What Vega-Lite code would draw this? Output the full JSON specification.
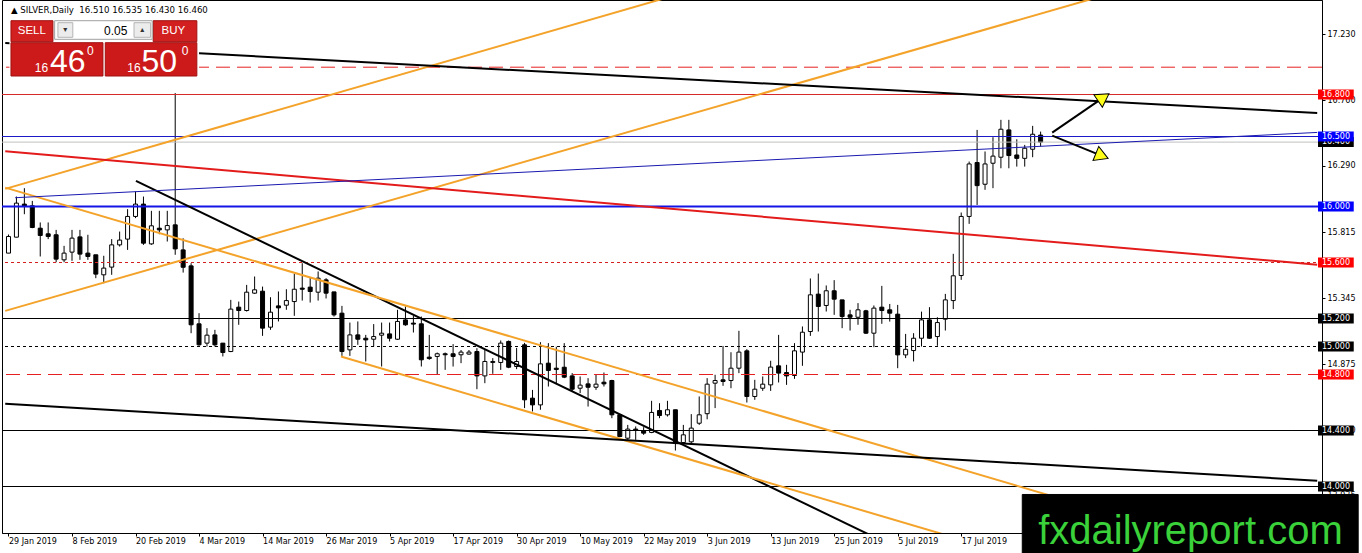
{
  "$schema": "https://vega.github.io/schema/vega-lite/v6.json",
  "description": "SILVER daily candles, Jan-Jul 2019, with trend lines and levels",
  "width": 1320,
  "height": 533,
  "autosize": {"type": "none"},
  "padding": {"left": 2, "top": 0, "right": 40, "bottom": 20},
  "background": "white",
  "config": {
    "view": {"stroke": "black", "strokeWidth": 1},
    "axis": {"labelFont": "DejaVu Sans", "labelFontSize": 8, "labelColor": "black", "tickColor": "black", "domainColor": "black", "grid": false}
  },
  "datasets": {
    "candles": [
      {"i":0,"d":"2019-01-29","o":15.667,"h":15.8,"l":15.667,"c":15.786},
      {"i":1,"d":"2019-01-30","o":15.781,"h":16.071,"l":15.78,"c":16.024},
      {"i":2,"d":"2019-01-31","o":16.017,"h":16.131,"l":15.945,"c":16.0},
      {"i":3,"d":"2019-02-01","o":16.005,"h":16.04,"l":15.845,"c":15.85},
      {"i":4,"d":"2019-02-04","o":15.845,"h":15.886,"l":15.643,"c":15.793},
      {"i":5,"d":"2019-02-05","o":15.805,"h":15.886,"l":15.767,"c":15.786},
      {"i":6,"d":"2019-02-06","o":15.798,"h":15.833,"l":15.602,"c":15.624},
      {"i":7,"d":"2019-02-07","o":15.619,"h":15.719,"l":15.602,"c":15.667},
      {"i":8,"d":"2019-02-08","o":15.674,"h":15.833,"l":15.612,"c":15.774},
      {"i":9,"d":"2019-02-11","o":15.783,"h":15.833,"l":15.619,"c":15.66},
      {"i":10,"d":"2019-02-12","o":15.667,"h":15.798,"l":15.619,"c":15.643},
      {"i":11,"d":"2019-02-13","o":15.655,"h":15.655,"l":15.488,"c":15.517},
      {"i":12,"d":"2019-02-14","o":15.512,"h":15.648,"l":15.452,"c":15.56},
      {"i":13,"d":"2019-02-15","o":15.567,"h":15.767,"l":15.512,"c":15.726},
      {"i":14,"d":"2019-02-18","o":15.726,"h":15.821,"l":15.714,"c":15.76},
      {"i":15,"d":"2019-02-19","o":15.767,"h":15.981,"l":15.69,"c":15.929},
      {"i":16,"d":"2019-02-20","o":15.929,"h":16.107,"l":15.917,"c":16.017},
      {"i":17,"d":"2019-02-21","o":16.017,"h":16.071,"l":15.726,"c":15.738},
      {"i":18,"d":"2019-02-22","o":15.733,"h":15.969,"l":15.726,"c":15.862},
      {"i":19,"d":"2019-02-25","o":15.845,"h":15.969,"l":15.802,"c":15.833},
      {"i":20,"d":"2019-02-26","o":15.833,"h":15.969,"l":15.75,"c":15.864},
      {"i":21,"d":"2019-02-27","o":15.869,"h":16.81,"l":15.655,"c":15.697},
      {"i":22,"d":"2019-02-28","o":15.69,"h":15.773,"l":15.528,"c":15.566},
      {"i":23,"d":"2019-03-01","o":15.576,"h":15.595,"l":15.095,"c":15.155},
      {"i":24,"d":"2019-03-04","o":15.162,"h":15.238,"l":15.005,"c":15.012},
      {"i":25,"d":"2019-03-05","o":15.024,"h":15.131,"l":15.0,"c":15.081},
      {"i":26,"d":"2019-03-06","o":15.083,"h":15.119,"l":15.0,"c":15.012},
      {"i":27,"d":"2019-03-07","o":15.024,"h":15.024,"l":14.929,"c":14.957},
      {"i":28,"d":"2019-03-08","o":14.964,"h":15.333,"l":14.96,"c":15.267},
      {"i":29,"d":"2019-03-11","o":15.281,"h":15.321,"l":15.155,"c":15.257},
      {"i":30,"d":"2019-03-12","o":15.257,"h":15.44,"l":15.25,"c":15.388},
      {"i":31,"d":"2019-03-13","o":15.381,"h":15.5,"l":15.376,"c":15.405},
      {"i":32,"d":"2019-03-14","o":15.395,"h":15.428,"l":15.076,"c":15.131},
      {"i":33,"d":"2019-03-15","o":15.138,"h":15.352,"l":15.119,"c":15.245},
      {"i":34,"d":"2019-03-18","o":15.29,"h":15.393,"l":15.179,"c":15.276},
      {"i":35,"d":"2019-03-19","o":15.295,"h":15.409,"l":15.262,"c":15.328},
      {"i":36,"d":"2019-03-20","o":15.321,"h":15.519,"l":15.219,"c":15.409},
      {"i":37,"d":"2019-03-21","o":15.417,"h":15.595,"l":15.328,"c":15.409},
      {"i":38,"d":"2019-03-22","o":15.424,"h":15.495,"l":15.314,"c":15.393},
      {"i":39,"d":"2019-03-25","o":15.388,"h":15.536,"l":15.328,"c":15.488},
      {"i":40,"d":"2019-03-26","o":15.476,"h":15.488,"l":15.343,"c":15.381},
      {"i":41,"d":"2019-03-27","o":15.39,"h":15.39,"l":15.214,"c":15.226},
      {"i":42,"d":"2019-03-28","o":15.238,"h":15.29,"l":14.933,"c":14.964},
      {"i":43,"d":"2019-03-29","o":14.976,"h":15.171,"l":14.933,"c":15.083},
      {"i":44,"d":"2019-04-01","o":15.083,"h":15.179,"l":15.012,"c":15.052},
      {"i":45,"d":"2019-04-02","o":15.059,"h":15.083,"l":14.893,"c":15.047},
      {"i":46,"d":"2019-04-03","o":15.052,"h":15.16,"l":15.0,"c":15.071},
      {"i":47,"d":"2019-04-04","o":15.081,"h":15.171,"l":14.857,"c":15.095},
      {"i":48,"d":"2019-04-05","o":15.09,"h":15.171,"l":15.036,"c":15.059},
      {"i":49,"d":"2019-04-08","o":15.052,"h":15.262,"l":15.047,"c":15.179},
      {"i":50,"d":"2019-04-09","o":15.19,"h":15.286,"l":15.148,"c":15.155},
      {"i":51,"d":"2019-04-10","o":15.167,"h":15.219,"l":15.1,"c":15.16},
      {"i":52,"d":"2019-04-11","o":15.162,"h":15.214,"l":14.857,"c":14.905},
      {"i":53,"d":"2019-04-12","o":14.924,"h":15.083,"l":14.905,"c":14.914},
      {"i":54,"d":"2019-04-15","o":14.929,"h":14.957,"l":14.798,"c":14.948},
      {"i":55,"d":"2019-04-16","o":14.948,"h":14.957,"l":14.833,"c":14.941},
      {"i":56,"d":"2019-04-17","o":14.948,"h":15.017,"l":14.857,"c":14.929},
      {"i":57,"d":"2019-04-18","o":14.941,"h":14.975,"l":14.881,"c":14.96},
      {"i":58,"d":"2019-04-22","o":14.946,"h":14.975,"l":14.941,"c":14.96},
      {"i":59,"d":"2019-04-23","o":14.964,"h":14.988,"l":14.695,"c":14.79},
      {"i":60,"d":"2019-04-24","o":14.79,"h":14.976,"l":14.738,"c":14.893},
      {"i":61,"d":"2019-04-25","o":14.886,"h":14.917,"l":14.805,"c":14.893},
      {"i":62,"d":"2019-04-26","o":14.886,"h":15.043,"l":14.833,"c":15.024},
      {"i":63,"d":"2019-04-29","o":15.036,"h":15.043,"l":14.845,"c":14.852},
      {"i":64,"d":"2019-04-30","o":14.857,"h":14.99,"l":14.838,"c":14.893},
      {"i":65,"d":"2019-05-01","o":15.012,"h":15.026,"l":14.56,"c":14.619},
      {"i":66,"d":"2019-05-02","o":14.631,"h":14.69,"l":14.536,"c":14.583},
      {"i":67,"d":"2019-05-03","o":14.583,"h":15.031,"l":14.548,"c":14.876},
      {"i":68,"d":"2019-05-06","o":14.881,"h":15.024,"l":14.714,"c":14.829},
      {"i":69,"d":"2019-05-07","o":14.845,"h":14.998,"l":14.738,"c":14.836},
      {"i":70,"d":"2019-05-08","o":14.852,"h":15.024,"l":14.774,"c":14.781},
      {"i":71,"d":"2019-05-09","o":14.79,"h":14.81,"l":14.679,"c":14.695},
      {"i":72,"d":"2019-05-10","o":14.702,"h":14.786,"l":14.667,"c":14.724},
      {"i":73,"d":"2019-05-13","o":14.733,"h":14.774,"l":14.571,"c":14.709},
      {"i":74,"d":"2019-05-14","o":14.709,"h":14.798,"l":14.69,"c":14.731},
      {"i":75,"d":"2019-05-15","o":14.745,"h":14.814,"l":14.714,"c":14.733},
      {"i":76,"d":"2019-05-16","o":14.757,"h":14.762,"l":14.488,"c":14.512},
      {"i":77,"d":"2019-05-17","o":14.512,"h":14.512,"l":14.352,"c":14.357},
      {"i":78,"d":"2019-05-20","o":14.345,"h":14.44,"l":14.333,"c":14.41},
      {"i":79,"d":"2019-05-21","o":14.41,"h":14.429,"l":14.333,"c":14.4},
      {"i":80,"d":"2019-05-22","o":14.398,"h":14.424,"l":14.369,"c":14.381},
      {"i":81,"d":"2019-05-23","o":14.386,"h":14.612,"l":14.381,"c":14.529},
      {"i":82,"d":"2019-05-24","o":14.543,"h":14.595,"l":14.488,"c":14.507},
      {"i":83,"d":"2019-05-27","o":14.512,"h":14.612,"l":14.5,"c":14.548},
      {"i":84,"d":"2019-05-28","o":14.548,"h":14.548,"l":14.257,"c":14.31},
      {"i":85,"d":"2019-05-29","o":14.314,"h":14.44,"l":14.305,"c":14.369},
      {"i":86,"d":"2019-05-30","o":14.319,"h":14.517,"l":14.31,"c":14.417},
      {"i":87,"d":"2019-05-31","o":14.452,"h":14.643,"l":14.44,"c":14.512},
      {"i":88,"d":"2019-06-03","o":14.52,"h":14.774,"l":14.48,"c":14.731},
      {"i":89,"d":"2019-06-04","o":14.738,"h":14.798,"l":14.56,"c":14.757},
      {"i":90,"d":"2019-06-05","o":14.762,"h":15.004,"l":14.719,"c":14.75},
      {"i":91,"d":"2019-06-06","o":14.757,"h":14.959,"l":14.702,"c":14.845},
      {"i":92,"d":"2019-06-07","o":14.845,"h":15.112,"l":14.81,"c":14.96},
      {"i":93,"d":"2019-06-10","o":14.969,"h":14.981,"l":14.6,"c":14.643},
      {"i":94,"d":"2019-06-11","o":14.643,"h":14.762,"l":14.619,"c":14.695},
      {"i":95,"d":"2019-06-12","o":14.702,"h":14.786,"l":14.683,"c":14.731},
      {"i":96,"d":"2019-06-13","o":14.726,"h":14.898,"l":14.683,"c":14.853},
      {"i":97,"d":"2019-06-14","o":14.862,"h":15.083,"l":14.743,"c":14.81},
      {"i":98,"d":"2019-06-17","o":14.814,"h":14.869,"l":14.726,"c":14.79},
      {"i":99,"d":"2019-06-18","o":14.793,"h":15.024,"l":14.769,"c":14.969},
      {"i":100,"d":"2019-06-19","o":14.96,"h":15.143,"l":14.862,"c":15.102},
      {"i":101,"d":"2019-06-20","o":15.107,"h":15.486,"l":15.076,"c":15.369},
      {"i":102,"d":"2019-06-21","o":15.374,"h":15.521,"l":15.107,"c":15.286},
      {"i":103,"d":"2019-06-24","o":15.293,"h":15.436,"l":15.25,"c":15.398},
      {"i":104,"d":"2019-06-25","o":15.398,"h":15.474,"l":15.226,"c":15.338},
      {"i":105,"d":"2019-06-26","o":15.333,"h":15.333,"l":15.131,"c":15.214},
      {"i":106,"d":"2019-06-27","o":15.226,"h":15.262,"l":15.114,"c":15.209},
      {"i":107,"d":"2019-06-28","o":15.209,"h":15.31,"l":15.155,"c":15.262},
      {"i":108,"d":"2019-07-01","o":15.255,"h":15.262,"l":15.09,"c":15.095},
      {"i":109,"d":"2019-07-02","o":15.095,"h":15.293,"l":14.995,"c":15.274},
      {"i":110,"d":"2019-07-03","o":15.281,"h":15.433,"l":15.162,"c":15.257},
      {"i":111,"d":"2019-07-04","o":15.262,"h":15.304,"l":15.178,"c":15.238},
      {"i":112,"d":"2019-07-05","o":15.231,"h":15.297,"l":14.845,"c":14.94},
      {"i":113,"d":"2019-07-08","o":14.94,"h":15.09,"l":14.917,"c":14.98},
      {"i":114,"d":"2019-07-09","o":14.971,"h":15.095,"l":14.893,"c":15.059},
      {"i":115,"d":"2019-07-10","o":15.059,"h":15.249,"l":15.0,"c":15.19},
      {"i":116,"d":"2019-07-11","o":15.19,"h":15.281,"l":15.055,"c":15.059},
      {"i":117,"d":"2019-07-12","o":15.071,"h":15.209,"l":15.005,"c":15.171},
      {"i":118,"d":"2019-07-15","o":15.195,"h":15.376,"l":15.114,"c":15.333},
      {"i":119,"d":"2019-07-16","o":15.328,"h":15.662,"l":15.267,"c":15.505},
      {"i":120,"d":"2019-07-17","o":15.507,"h":15.957,"l":15.476,"c":15.929},
      {"i":121,"d":"2019-07-18","o":15.929,"h":16.321,"l":15.876,"c":16.304},
      {"i":122,"d":"2019-07-19","o":16.314,"h":16.547,"l":16.011,"c":16.149},
      {"i":123,"d":"2019-07-22","o":16.159,"h":16.393,"l":16.119,"c":16.304},
      {"i":124,"d":"2019-07-23","o":16.309,"h":16.495,"l":16.131,"c":16.36},
      {"i":125,"d":"2019-07-24","o":16.352,"h":16.619,"l":16.273,"c":16.552},
      {"i":126,"d":"2019-07-25","o":16.547,"h":16.619,"l":16.273,"c":16.364},
      {"i":127,"d":"2019-07-26","o":16.368,"h":16.48,"l":16.285,"c":16.344},
      {"i":128,"d":"2019-07-29","o":16.344,"h":16.44,"l":16.285,"c":16.416},
      {"i":129,"d":"2019-07-30","o":16.409,"h":16.576,"l":16.352,"c":16.516},
      {"i":130,"d":"2019-07-31","o":16.51,"h":16.535,"l":16.43,"c":16.46}
    ],
    "levels": [
      {"name":"16.995","level":16.995},
      {"name":"16.800","level":16.8},
      {"name":"16.460","level":16.46},
      {"name":"16.500","level":16.5},
      {"name":"16.000","level":16.0},
      {"name":"15.600","level":15.6},
      {"name":"15.200","level":15.2},
      {"name":"15.000","level":15.0},
      {"name":"14.800","level":14.8},
      {"name":"14.400","level":14.4},
      {"name":"14.000","level":14.0}
    ],
    "lines": [
      {"name":"rise_a","x1":-0.41,"y1":16.1257,"x2":93.34,"y2":17.6629},
      {"name":"rise_b","x1":-0.41,"y1":15.2546,"x2":143.34,"y2":17.5947},
      {"name":"top","x1":-0.41,"y1":17.1681,"x2":164.84,"y2":16.6683},
      {"name":"red","x1":-0.41,"y1":16.3942,"x2":164.84,"y2":15.5845},
      {"name":"blue","x1":0.84,"y1":16.0628,"x2":164.84,"y2":16.5291},
      {"name":"down","x1":16.05,"y1":16.1828,"x2":108.34,"y2":13.6582},
      {"name":"chan_hi","x1":-0.41,"y1":16.135,"x2":164.84,"y2":13.3733},
      {"name":"chan_lo","x1":41.875,"y1":14.9283,"x2":124.59,"y2":13.544},
      {"name":"floor","x1":-0.41,"y1":14.5906,"x2":164.84,"y2":14.0409}
    ],
    "arrows": [
      {"dir":"up","x1":131.46,"y1":16.5276,"x2":137.93,"y2":16.7797},
      {"dir":"down","x1":131.46,"y1":16.5062,"x2":137.73,"y2":16.3613}
    ],
    "panel": [
      {"part":"bg","x1":0.1875,"x2":23.94,"y1":17.3393,"y2":16.925},
      {"part":"button","x1":0.3125,"x2":5.6,"y1":17.3271,"y2":17.1771},
      {"part":"button","x1":18.225,"x2":23.725,"y1":17.3271,"y2":17.1771},
      {"part":"spin","x1":5.8125,"x2":18.1,"y1":17.3271,"y2":17.1943},
      {"part":"step","x1":6.225,"x2":8.1,"y1":17.3129,"y2":17.2086},
      {"part":"step","x1":15.8125,"x2":17.9,"y1":17.3129,"y2":17.2086},
      {"part":"price","x1":0.3125,"x2":11.9,"y1":17.17,"y2":16.9321},
      {"part":"price","x1":12.1875,"x2":23.725,"y1":17.17,"y2":16.9321},
      {"part":"brand","x1":127.69,"x2":170,"y1":13.943,"y2":13.5}
    ],
    "labels": [
      {"part":"header","t":"▲ SILVER,Daily\u00a0 16.510 16.535 16.430 16.460","x":0.3125,"y":17.4014},
      {"part":"btn","t":"SELL","x":2.9375,"y":17.2536},
      {"part":"btn","t":"BUY","x":20.775,"y":17.2536},
      {"part":"lot","t":"0.05","x":14.975,"y":17.255},
      {"part":"step","t":"▾","x":7.1625,"y":17.2607},
      {"part":"step","t":"▴","x":16.85,"y":17.2607},
      {"part":"small","t":"16","x":4.15,"y":16.9629},
      {"part":"small","t":"16","x":15.8125,"y":16.9629},
      {"part":"big","t":"46","x":7.475,"y":16.9629},
      {"part":"big","t":"50","x":19.0,"y":16.9629},
      {"part":"sup","t":"0","x":10.3,"y":17.0821},
      {"part":"sup","t":"0","x":22.25,"y":17.0821},
      {"part":"brand","t":"fxdailyreport.com","x":129.69,"y":13.5893}
    ]
  },
  "resolve": {"scale": {"color": "independent", "strokeDash": "independent", "fill": "independent", "stroke": "independent"}},
  "layer": [
    {
      "data": {"name": "candles"},
      "mark": {"type": "rule", "color": "black", "strokeWidth": 1, "clip": true},
      "encoding": {
        "x": {
          "field": "i", "type": "quantitative",
          "scale": {"domain": [-0.1875, 164.8125], "nice": false, "zero": false},
          "axis": {
            "title": null,
            "values": [0, 8, 16, 24, 32, 40, 48, 56, 64, 72, 80, 88, 96, 104, 112, 120],
            "labelExpr": "['29 Jan 2019','8 Feb 2019','20 Feb 2019','4 Mar 2019','14 Mar 2019','26 Mar 2019','5 Apr 2019','17 Apr 2019','30 Apr 2019','10 May 2019','22 May 2019','3 Jun 2019','13 Jun 2019','25 Jun 2019','5 Jul 2019','17 Jul 2019'][round(datum.value / 8)]",
            "labelAlign": "left",
            "labelOffset": 0,
            "tickSize": 3,
            "labelPadding": 1,
            "labelFlush": false,
            "labelOverlap": false,
            "labelBound": false
          }
        },
        "y": {
          "field": "l", "type": "quantitative",
          "scale": {"domain": [13.66786, 17.475], "nice": false, "zero": false},
          "axis": {
            "title": null,
            "orient": "right",
            "values": [17.23, 16.995, 16.76, 16.525, 16.29, 16.055, 15.815, 15.58, 15.345, 15.11, 14.875, 14.64, 14.4, 14.17, 13.935],
            "format": ".3f",
            "tickSize": 3,
            "labelPadding": 2,
            "labelOverlap": false,
            "labelBound": false
          }
        },
        "y2": {"field": "h"}
      }
    },
    {
      "data": {"name": "candles"},
      "mark": {"type": "bar", "width": 4, "stroke": "black", "strokeWidth": 1, "clip": true},
      "encoding": {
        "x": {"field": "i", "type": "quantitative", "title": null, "scale": {"domain": [-0.1875, 164.8125], "nice": false, "zero": false}},
        "y": {"field": "o", "type": "quantitative", "title": null, "scale": {"domain": [13.66786, 17.475], "nice": false, "zero": false}},
        "y2": {"field": "c"},
        "fill": {"condition": {"test": "datum.c >= datum.o", "value": "white"}, "value": "black"},
        "tooltip": [
          {"field": "d", "type": "nominal", "title": "Date"},
          {"field": "o", "type": "quantitative", "title": "Open"},
          {"field": "h", "type": "quantitative", "title": "High"},
          {"field": "l", "type": "quantitative", "title": "Low"},
          {"field": "c", "type": "quantitative", "title": "Close"}
        ]
      }
    },
    {
      "data": {"name": "levels"},
      "transform": [{"filter": "datum.level != 16"}],
      "mark": {"type": "rule", "strokeWidth": 1, "clip": true},
      "encoding": {
        "y": {"field": "level", "type": "quantitative", "title": null, "scale": {"domain": [13.66786, 17.475], "nice": false, "zero": false}},
        "color": {
          "field": "name", "type": "nominal", "legend": null,
          "scale": {
            "domain": ["16.995", "16.800", "16.460", "16.500", "15.600", "15.200", "15.000", "14.800", "14.400", "14.000"],
            "range": ["#e52020", "#d42a2a", "#c0c0c0", "#1a1ac8", "#d42020", "black", "black", "#e52020", "black", "black"]
          }
        },
        "strokeDash": {
          "field": "name", "type": "nominal", "legend": null,
          "scale": {
            "domain": ["16.995", "16.800", "16.460", "16.500", "15.600", "15.200", "15.000", "14.800", "14.400", "14.000"],
            "range": [[14, 7], [1, 0], [1, 0], [1, 0], [3, 3], [1, 0], [3, 3], [14, 7], [1, 0], [1, 0]]
          }
        }
      }
    },
    {
      "data": {"name": "levels"},
      "transform": [{"filter": "datum.level == 16"}],
      "mark": {"type": "rule", "strokeWidth": 2, "color": "#1414e6", "clip": true},
      "encoding": {
        "y": {"field": "level", "type": "quantitative", "title": null, "scale": {"domain": [13.66786, 17.475], "nice": false, "zero": false}}
      }
    },
    {
      "data": {"name": "lines"},
      "transform": [{"filter": "datum.name != 'blue'"}],
      "mark": {"type": "rule", "strokeWidth": 2, "clip": true},
      "encoding": {
        "x": {"field": "x1", "type": "quantitative", "title": null, "scale": {"domain": [-0.1875, 164.8125], "nice": false, "zero": false}},
        "x2": {"field": "x2"},
        "y": {"field": "y1", "type": "quantitative", "title": null, "scale": {"domain": [13.66786, 17.475], "nice": false, "zero": false}},
        "y2": {"field": "y2"},
        "color": {
          "field": "name", "type": "nominal", "legend": null,
          "scale": {
            "domain": ["rise_a", "rise_b", "top", "red", "down", "chan_hi", "chan_lo", "floor"],
            "range": ["#f4a32a", "#f4a32a", "black", "#e31b1b", "black", "#f4a32a", "#f4a32a", "black"]
          }
        }
      }
    },
    {
      "data": {"name": "lines"},
      "transform": [{"filter": "datum.name == 'blue'"}],
      "mark": {"type": "rule", "strokeWidth": 1, "color": "#1a1ab0", "clip": true},
      "encoding": {
        "x": {"field": "x1", "type": "quantitative", "title": null, "scale": {"domain": [-0.1875, 164.8125], "nice": false, "zero": false}},
        "x2": {"field": "x2"},
        "y": {"field": "y1", "type": "quantitative", "title": null, "scale": {"domain": [13.66786, 17.475], "nice": false, "zero": false}},
        "y2": {"field": "y2"}
      }
    },
    {
      "data": {"name": "arrows"},
      "mark": {"type": "rule", "strokeWidth": 2, "color": "black"},
      "encoding": {
        "x": {"field": "x1", "type": "quantitative", "title": null, "scale": {"domain": [-0.1875, 164.8125], "nice": false, "zero": false}},
        "x2": {"field": "x2"},
        "y": {"field": "y1", "type": "quantitative", "title": null, "scale": {"domain": [13.66786, 17.475], "nice": false, "zero": false}},
        "y2": {"field": "y2"}
      }
    },
    {
      "data": {"name": "arrows"},
      "mark": {"type": "point", "shape": "triangle-up", "filled": true, "fill": "#ffff1a", "stroke": "black", "strokeWidth": 1, "size": 230, "opacity": 1},
      "encoding": {
        "x": {"field": "x2", "type": "quantitative", "title": null, "scale": {"domain": [-0.1875, 164.8125], "nice": false, "zero": false}},
        "y": {"field": "y2", "type": "quantitative", "title": null, "scale": {"domain": [13.66786, 17.475], "nice": false, "zero": false}},
        "angle": {"condition": {"test": "datum.dir == 'up'", "value": 56}, "value": 112}
      }
    },
    {
      "data": {"name": "levels"},
      "transform": [{"filter": "datum.level == 16.46"}],
      "mark": {"type": "rect", "yOffset": -5, "y2Offset": 5, "fill": "black"},
      "encoding": {
        "x": {"datum": 164.94, "type": "quantitative", "title": null, "scale": {"domain": [-0.1875, 164.8125], "nice": false, "zero": false}},
        "x2": {"datum": 169.44},
        "y": {"field": "level", "type": "quantitative", "title": null, "scale": {"domain": [13.66786, 17.475], "nice": false, "zero": false}},
        "y2": {"field": "level"}
      }
    },
    {
      "data": {"name": "levels"},
      "transform": [{"filter": "datum.level == 16.46"}],
      "mark": {"type": "text", "align": "left", "baseline": "middle", "font": "DejaVu Sans", "fontSize": 8, "color": "white"},
      "encoding": {
        "x": {"datum": 165.44, "type": "quantitative", "title": null, "scale": {"domain": [-0.1875, 164.8125], "nice": false, "zero": false}},
        "y": {"field": "level", "type": "quantitative", "title": null, "scale": {"domain": [13.66786, 17.475], "nice": false, "zero": false}},
        "text": {"field": "name"}
      }
    },
    {
      "data": {"name": "levels"},
      "transform": [{"filter": "datum.level != 16.46 && datum.level != 16.995"}],
      "mark": {"type": "rect", "yOffset": -5, "y2Offset": 5},
      "encoding": {
        "x": {"datum": 164.94, "type": "quantitative", "title": null, "scale": {"domain": [-0.1875, 164.8125], "nice": false, "zero": false}},
        "x2": {"datum": 169.44},
        "y": {"field": "level", "type": "quantitative", "title": null, "scale": {"domain": [13.66786, 17.475], "nice": false, "zero": false}},
        "y2": {"field": "level"},
        "fill": {
          "field": "name", "type": "nominal", "legend": null,
          "scale": {
            "domain": ["16.800", "16.500", "16.000", "15.600", "15.200", "15.000", "14.800", "14.400", "14.000"],
            "range": ["#ff0000", "#0000ff", "#0000ff", "#ff0000", "black", "black", "#ff0000", "black", "black"]
          }
        }
      }
    },
    {
      "data": {"name": "levels"},
      "transform": [{"filter": "datum.level != 16.46 && datum.level != 16.995"}],
      "mark": {"type": "text", "align": "left", "baseline": "middle", "font": "DejaVu Sans", "fontSize": 8, "color": "white"},
      "encoding": {
        "x": {"datum": 165.44, "type": "quantitative", "title": null, "scale": {"domain": [-0.1875, 164.8125], "nice": false, "zero": false}},
        "y": {"field": "level", "type": "quantitative", "title": null, "scale": {"domain": [13.66786, 17.475], "nice": false, "zero": false}},
        "text": {"field": "name"}
      }
    },
    {
      "data": {"name": "panel"},
      "mark": {"type": "rect", "strokeWidth": 1},
      "encoding": {
        "x": {"field": "x1", "type": "quantitative", "title": null, "scale": {"domain": [-0.1875, 164.8125], "nice": false, "zero": false}},
        "x2": {"field": "x2"},
        "y": {"field": "y1", "type": "quantitative", "title": null, "scale": {"domain": [13.66786, 17.475], "nice": false, "zero": false}},
        "y2": {"field": "y2"},
        "fill": {
          "field": "part", "type": "nominal", "legend": null,
          "scale": {"domain": ["bg", "button", "spin", "step", "price", "brand"], "range": ["white", "#d21f1f", "white", "#ececec", "#cc1a1a", "black"]}
        },
        "stroke": {
          "field": "part", "type": "nominal", "legend": null,
          "scale": {"domain": ["bg", "button", "spin", "step", "price", "brand"], "range": ["white", "#a01010", "#a0a0a0", "#b4b4b4", "#a01010", "black"]}
        }
      }
    },
    {
      "data": {"name": "labels"},
      "transform": [{"filter": "datum.part == 'header'"}],
      "mark": {"type": "text", "align": "left", "baseline": "middle", "font": "DejaVu Sans", "fontSize": 8.6, "color": "black"},
      "encoding": {
        "x": {"field": "x", "type": "quantitative", "title": null, "scale": {"domain": [-0.1875, 164.8125], "nice": false, "zero": false}},
        "y": {"field": "y", "type": "quantitative", "title": null, "scale": {"domain": [13.66786, 17.475], "nice": false, "zero": false}},
        "text": {"field": "t"}
      }
    },
    {
      "data": {"name": "labels"},
      "transform": [{"filter": "datum.part == 'btn'"}],
      "mark": {"type": "text", "align": "center", "baseline": "middle", "font": "Liberation Sans", "fontSize": 11.5, "color": "white"},
      "encoding": {
        "x": {"field": "x", "type": "quantitative", "title": null, "scale": {"domain": [-0.1875, 164.8125], "nice": false, "zero": false}},
        "y": {"field": "y", "type": "quantitative", "title": null, "scale": {"domain": [13.66786, 17.475], "nice": false, "zero": false}},
        "text": {"field": "t"}
      }
    },
    {
      "data": {"name": "labels"},
      "transform": [{"filter": "datum.part == 'lot'"}],
      "mark": {"type": "text", "align": "right", "baseline": "middle", "font": "Liberation Sans", "fontSize": 12, "color": "black"},
      "encoding": {
        "x": {"field": "x", "type": "quantitative", "title": null, "scale": {"domain": [-0.1875, 164.8125], "nice": false, "zero": false}},
        "y": {"field": "y", "type": "quantitative", "title": null, "scale": {"domain": [13.66786, 17.475], "nice": false, "zero": false}},
        "text": {"field": "t"}
      }
    },
    {
      "data": {"name": "labels"},
      "transform": [{"filter": "datum.part == 'step'"}],
      "mark": {"type": "text", "align": "center", "baseline": "middle", "font": "DejaVu Sans", "fontSize": 8, "color": "#333333"},
      "encoding": {
        "x": {"field": "x", "type": "quantitative", "title": null, "scale": {"domain": [-0.1875, 164.8125], "nice": false, "zero": false}},
        "y": {"field": "y", "type": "quantitative", "title": null, "scale": {"domain": [13.66786, 17.475], "nice": false, "zero": false}},
        "text": {"field": "t"}
      }
    },
    {
      "data": {"name": "labels"},
      "transform": [{"filter": "datum.part == 'small'"}],
      "mark": {"type": "text", "align": "center", "baseline": "alphabetic", "font": "Liberation Sans", "fontSize": 12, "color": "white"},
      "encoding": {
        "x": {"field": "x", "type": "quantitative", "title": null, "scale": {"domain": [-0.1875, 164.8125], "nice": false, "zero": false}},
        "y": {"field": "y", "type": "quantitative", "title": null, "scale": {"domain": [13.66786, 17.475], "nice": false, "zero": false}},
        "text": {"field": "t"}
      }
    },
    {
      "data": {"name": "labels"},
      "transform": [{"filter": "datum.part == 'big'"}],
      "mark": {"type": "text", "align": "center", "baseline": "alphabetic", "font": "Liberation Sans", "fontSize": 32, "color": "white"},
      "encoding": {
        "x": {"field": "x", "type": "quantitative", "title": null, "scale": {"domain": [-0.1875, 164.8125], "nice": false, "zero": false}},
        "y": {"field": "y", "type": "quantitative", "title": null, "scale": {"domain": [13.66786, 17.475], "nice": false, "zero": false}},
        "text": {"field": "t"}
      }
    },
    {
      "data": {"name": "labels"},
      "transform": [{"filter": "datum.part == 'sup'"}],
      "mark": {"type": "text", "align": "center", "baseline": "alphabetic", "font": "Liberation Sans", "fontSize": 12, "color": "white"},
      "encoding": {
        "x": {"field": "x", "type": "quantitative", "title": null, "scale": {"domain": [-0.1875, 164.8125], "nice": false, "zero": false}},
        "y": {"field": "y", "type": "quantitative", "title": null, "scale": {"domain": [13.66786, 17.475], "nice": false, "zero": false}},
        "text": {"field": "t"}
      }
    },
    {
      "data": {"name": "labels"},
      "transform": [{"filter": "datum.part == 'brand'"}],
      "mark": {"type": "text", "align": "left", "baseline": "alphabetic", "font": "Liberation Sans", "fontSize": 40, "color": "#3ad13a"},
      "encoding": {
        "x": {"field": "x", "type": "quantitative", "title": null, "scale": {"domain": [-0.1875, 164.8125], "nice": false, "zero": false}},
        "y": {"field": "y", "type": "quantitative", "title": null, "scale": {"domain": [13.66786, 17.475], "nice": false, "zero": false}},
        "text": {"field": "t"}
      }
    }
  ]
}
